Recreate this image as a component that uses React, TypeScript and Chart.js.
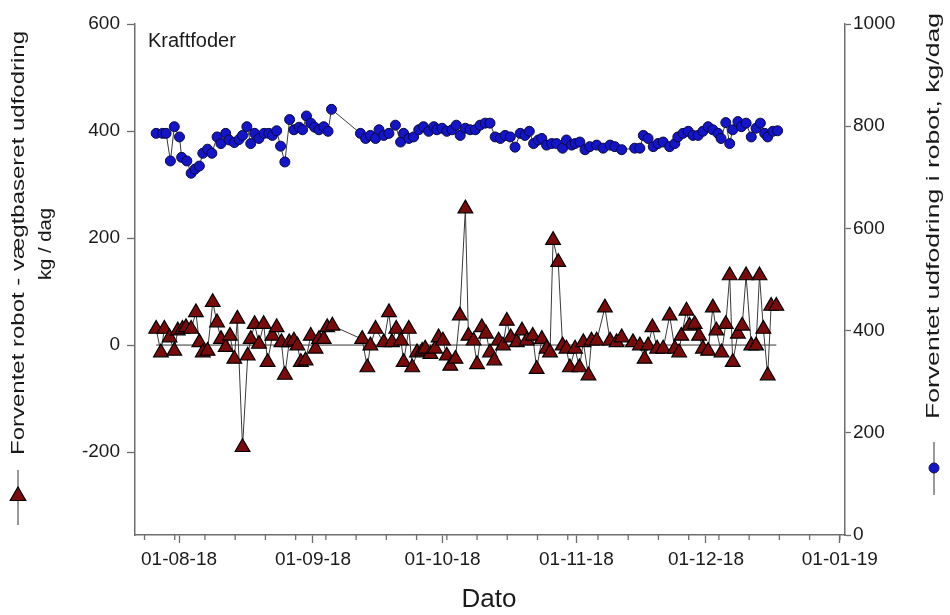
import React, { useEffect, useRef } from 'react';
import { Chart, registerables } from 'chart.js';

Chart.register(...registerables);

// x values: days since 01-08-2018
const monthTickDays = [0, 31, 61, 92, 122, 153];
const monthTickLabels = ['01-08-18', '01-09-18', '01-10-18', '01-11-18', '01-12-18', '01-01-19'];
const leftTicks = [-200, 0, 200, 400, 600];
const rightTicks = [0, 200, 400, 600, 800, 1000];

// Forventet udfodring i robot, kg/dag (right axis, blue circles)
const robotDays = [
  -5.3, -3.8, -3.0, -2.0, -1.1, 0.1, 0.6, 1.8, 2.8, 3.7, 4.7, 5.5, 6.6, 7.6, 8.8, 9.7, 10.8, 11.6, 12.8, 13.9,
  14.7, 15.7, 16.6, 17.5, 18.5, 19.7, 20.8, 21.6, 22.6, 23.5, 24.5, 25.6, 26.6, 27.8, 28.6, 29.5, 30.5, 31.4, 32.4, 33.5,
  34.5, 35.3, 42.0, 43.2, 44.3, 45.5, 46.3, 47.4, 48.6, 50.1, 51.3, 52.0, 53.2, 54.3, 55.5, 56.6, 57.8, 59.0, 59.7, 60.9,
  62.0, 63.2, 64.2, 65.1, 66.3, 67.4, 68.6, 69.7, 70.9, 72.0, 73.2, 74.4, 75.5, 76.7, 77.8, 79.0, 80.1, 81.1, 82.1, 83.2,
  84.0, 85.1, 86.3, 87.4, 88.8, 89.7, 90.9, 91.7, 92.8, 94.0, 95.1, 96.7, 98.2, 99.8, 100.9, 102.5, 105.5, 106.7, 107.5, 108.6,
  109.8, 110.9, 112.1, 113.6, 114.8, 115.5, 116.7, 117.9, 119.0, 120.2, 121.3, 122.5, 123.6, 124.8, 125.5, 126.6, 127.5, 128.2, 129.4, 130.2,
  131.3, 132.5, 133.6, 134.6, 135.6, 136.3, 137.5, 138.6,
];
const robotValues = [
  786, 786, 786, 732, 799, 779, 739, 732, 708, 716, 722, 747, 755, 747, 779, 766, 786, 773, 768, 774,
  782, 799, 766, 786, 776, 786, 786, 782, 791, 761, 730, 813, 793, 798, 793, 820, 806, 798, 793, 799,
  790, 833, 786, 776, 782, 776, 793, 782, 786, 802, 769, 786, 776, 779, 793, 799, 790, 799, 793, 796,
  790, 793, 802, 782, 796, 793, 793, 802, 806, 806, 779, 776, 782, 779, 759, 786, 782, 790, 766, 773,
  776, 763, 766, 766, 757, 773, 763, 766, 769, 754, 760, 763, 757, 763, 760, 754, 757, 757, 782, 776,
  760, 766, 769, 760, 766, 779, 786, 790, 782, 782, 790, 799, 793, 786, 776, 807, 766, 793, 809, 799,
  806, 779, 796, 806, 786, 779, 790, 791,
];

// Forventet robot - vægtbaseret udfodring, kg/dag (left axis, red triangles)
const diffDays = [
  -5.3, -4.2, -3.4, -2.2, -1.1, -0.3, 0.8, 1.6, 2.8, 3.9, 4.7, 5.5, 6.6, 7.8, 8.8, 9.7, 10.8, 11.8, 12.8, 13.5,
  14.7, 15.9, 16.6, 17.5, 18.5, 19.6, 20.5, 21.6, 22.6, 23.7, 24.5, 25.5, 26.6, 27.4, 28.2, 29.3, 30.5, 31.6, 32.4, 33.5,
  34.3, 35.5, 42.4, 43.6, 44.3, 45.5, 47.4, 48.6, 49.3, 50.3, 51.4, 52.0, 53.2, 54.0, 55.1, 56.3, 57.0, 58.2, 59.3, 60.1,
  61.1, 62.0, 62.8, 64.0, 65.0, 66.3, 67.0, 68.2, 69.0, 70.1, 71.1, 72.0, 73.0, 74.0, 75.0, 75.9, 76.8, 78.2, 79.4, 80.5,
  81.9, 82.8, 84.0, 85.1, 85.9, 86.6, 87.8, 88.8, 89.7, 90.5, 91.7, 92.7, 93.6, 94.8, 95.5, 96.7, 98.6, 99.8, 101.3, 102.5,
  105.1, 106.7, 107.8, 108.6, 109.6, 110.7, 112.1, 113.6, 114.8, 115.8, 116.3, 117.5, 118.2, 119.4, 120.4, 121.3, 122.5, 123.6, 124.4, 125.6,
  126.6, 127.5, 128.2, 129.4, 130.4, 131.3, 132.5, 133.6, 134.4, 135.3, 136.3, 137.1, 138.3,
];
const diffValues = [
  30, -14, 30, 14, -11, 27, 30, 33, 30, 61, 5, -14, -11, 80, 42, 11, -4, 17, -26, 49,
  -191, -20, 11, 39, 2, 39, -32, 17, 33, 5, -56, 5, 8, -1, -32, -29, 17, -7, 11, 11,
  33, 36, 11, -42, -1, 30, 5, 61, 5, 30, 8, -32, 30, -42, -14, -11, -7, -17, -7, 14,
  8, -20, -39, -26, 55, 255, 17, 8, -36, 33, 21, -14, -29, 8, -1, 45, 14, 5, 27, 8,
  17, -45, 11, -7, -14, 196, 155, -1, -7, -42, -7, -42, 5, -57, 8, 8, 70, 8, 5, 14,
  5, -1, -26, -1, 33, -7, -7, 55, -7, -14, 17, 64, 36, 39, 17, -7, -11, 70, 27, -14,
  39, 130, -32, 21, 36, 130, -1, -1, 130, 30, -57, 73, 73,
];

const FONT = "'Liberation Sans', Arial, Helvetica, sans-serif";
const AXIS_COLOR = '#6e6e6e';
const TEXT_COLOR = '#1a1a1a';
const TRI_FILL = '#7a0b0b';
const CIRCLE_FILL = '#1414c8';

function drawTriangle(ctx: CanvasRenderingContext2D, x: number, y: number, r: number) {
  ctx.beginPath();
  ctx.moveTo(x, y - r);
  ctx.lineTo(x + r * 0.866, y + r * 0.5);
  ctx.lineTo(x - r * 0.866, y + r * 0.5);
  ctx.closePath();
  ctx.fillStyle = TRI_FILL;
  ctx.fill();
  ctx.strokeStyle = '#000';
  ctx.lineWidth = 1.2;
  ctx.stroke();
}

// draw rotated (-90deg) text centred at (cx, cy), stretched along its length to `len` px
function drawVerticalText(ctx: CanvasRenderingContext2D, text: string, cx: number, cy: number, len: number | null) {
  ctx.save();
  ctx.translate(cx, cy);
  ctx.rotate(-Math.PI / 2);
  if (len) {
    const w = ctx.measureText(text).width;
    ctx.scale(len / w, 1);
  }
  ctx.textAlign = 'center';
  ctx.textBaseline = 'middle';
  ctx.fillText(text, 0, 0);
  ctx.restore();
}

const annotationPlugin = {
  id: 'annot',
  afterDraw(chart: any) {
    const ctx: CanvasRenderingContext2D = chart.ctx;
    const area = chart.chartArea;
    ctx.save();
    ctx.fillStyle = TEXT_COLOR;

    // Panel label
    ctx.font = `20px ${FONT}`;
    ctx.textAlign = 'left';
    ctx.textBaseline = 'middle';
    ctx.fillText('Kraftfoder', area.left + 13, 41);

    // X title
    ctx.font = `26px ${FONT}`;
    ctx.textAlign = 'center';
    ctx.textBaseline = 'middle';
    ctx.fillText('Dato', 489, 600);

    // Left title
    ctx.font = `19px ${FONT}`;
    drawVerticalText(ctx, 'Forventet robot - vægtbaseret udfodring', 19, 243, 424);
    drawVerticalText(ctx, 'kg / dag', 46, 244, 72);
    ctx.strokeStyle = '#555';
    ctx.lineWidth = 1.2;
    ctx.beginPath();
    ctx.moveTo(18, 470);
    ctx.lineTo(18, 525);
    ctx.stroke();
    drawTriangle(ctx, 18, 496, 9);

    // Right title
    ctx.fillStyle = TEXT_COLOR;
    ctx.font = `19px ${FONT}`;
    drawVerticalText(ctx, 'Forventet udfodring i robot, kg/dag', 934, 216, 406);
    ctx.strokeStyle = '#555';
    ctx.lineWidth = 1.2;
    ctx.beginPath();
    ctx.moveTo(934, 442);
    ctx.lineTo(934, 495);
    ctx.stroke();
    ctx.beginPath();
    ctx.arc(934, 468, 5, 0, Math.PI * 2);
    ctx.fillStyle = CIRCLE_FILL;
    ctx.fill();
    ctx.strokeStyle = '#101040';
    ctx.lineWidth = 1;
    ctx.stroke();

    // minor weekly ticks on x axis
    const xs = chart.scales.x;
    ctx.strokeStyle = AXIS_COLOR;
    ctx.lineWidth = 1.3;
    for (let d = -8; d <= 154; d += 7) {
      if (d < xs.min || d > xs.max) continue;
      const px = xs.getPixelForValue(d);
      ctx.beginPath();
      ctx.moveTo(px, area.bottom);
      ctx.lineTo(px, area.bottom + 5);
      ctx.stroke();
    }
    ctx.restore();
  },
};

export default function App() {
  const ref = useRef<HTMLCanvasElement | null>(null);

  useEffect(() => {
    document.body.style.margin = '0';
    const canvas = ref.current;
    if (!canvas) return;

    const robotData = robotDays.map((d, i) => ({ x: d, y: robotValues[i] }));
    const diffData = diffDays.map((d, i) => ({ x: d, y: diffValues[i] }));
    const zeroData = [
      { x: diffDays[0], y: 0 },
      { x: diffDays[diffDays.length - 1], y: 0 },
    ];

    const tickFont = { family: FONT, size: 19 };
    const gridOpts = {
      drawOnChartArea: false,
      drawTicks: true,
      tickLength: 8,
      tickWidth: 1.3,
      tickColor: AXIS_COLOR,
    };
    const gridOptsRight = { ...gridOpts, tickLength: 6 };
    const borderOpts = { display: true, color: AXIS_COLOR, width: 1.5 };

    const chart = new Chart(canvas, {
      type: 'scatter',
      data: {
        datasets: [
          {
            label: 'zero',
            data: zeroData,
            yAxisID: 'y',
            showLine: true,
            borderColor: '#333',
            borderWidth: 1,
            pointRadius: 0,
            order: 3,
          },
          {
            label: 'Forventet robot - vægtbaseret udfodring',
            data: diffData,
            yAxisID: 'y',
            showLine: true,
            borderColor: '#3a3a3a',
            borderWidth: 1,
            pointStyle: 'triangle',
            pointRadius: 8.5,
            pointBackgroundColor: TRI_FILL,
            pointBorderColor: '#000',
            pointBorderWidth: 1.2,
            order: 2,
          },
          {
            label: 'Forventet udfodring i robot, kg/dag',
            data: robotData,
            yAxisID: 'y2',
            showLine: true,
            borderColor: '#3a3a3a',
            borderWidth: 1,
            pointStyle: 'circle',
            pointRadius: 5,
            pointBackgroundColor: CIRCLE_FILL,
            pointBorderColor: '#0a0a3c',
            pointBorderWidth: 1,
            order: 1,
          },
        ],
      },
      options: {
        responsive: false,
        animation: false,
        layout: { padding: { top: 24, left: 0, right: 0, bottom: 0 } },
        plugins: {
          legend: { display: false },
          tooltip: { enabled: false },
        },
        scales: {
          x: {
            type: 'linear',
            position: 'bottom',
            min: -10.2,
            max: 154.2,
            afterBuildTicks: (scale: any) => {
              scale.ticks = monthTickDays.map((v) => ({ value: v }));
            },
            afterFit: (scale: any) => {
              scale.height = 80;
            },
            ticks: {
              autoSkip: false,
              maxRotation: 0,
              font: tickFont,
              color: TEXT_COLOR,
              padding: 5,
              callback: (value: any) => {
                const i = monthTickDays.indexOf(Number(value));
                return i >= 0 ? monthTickLabels[i] : '';
              },
            },
            grid: gridOpts,
            border: borderOpts,
          },
          y: {
            type: 'linear',
            position: 'left',
            min: -355,
            max: 600,
            afterBuildTicks: (scale: any) => {
              scale.ticks = leftTicks.map((v) => ({ value: v }));
            },
            afterFit: (scale: any) => {
              scale.width = 135;
            },
            ticks: { font: tickFont, color: TEXT_COLOR, padding: 7, callback: (v: any) => String(v) },
            grid: gridOpts,
            border: borderOpts,
          },
          y2: {
            type: 'linear',
            position: 'right',
            min: 0,
            max: 1000,
            afterBuildTicks: (scale: any) => {
              scale.ticks = rightTicks.map((v) => ({ value: v }));
            },
            afterFit: (scale: any) => {
              scale.width = 105;
            },
            ticks: { font: tickFont, color: TEXT_COLOR, padding: 2, callback: (v: any) => String(v) },
            grid: gridOptsRight,
            border: borderOpts,
          },
        },
      },
      plugins: [annotationPlugin],
    } as any);

    return () => {
      chart.destroy();
    };
  }, []);

  return (
    <div style={{ width: 950, height: 615, position: 'relative', background: '#fff' }}>
      <canvas ref={ref} width={950} height={615} />
    </div>
  );
}
